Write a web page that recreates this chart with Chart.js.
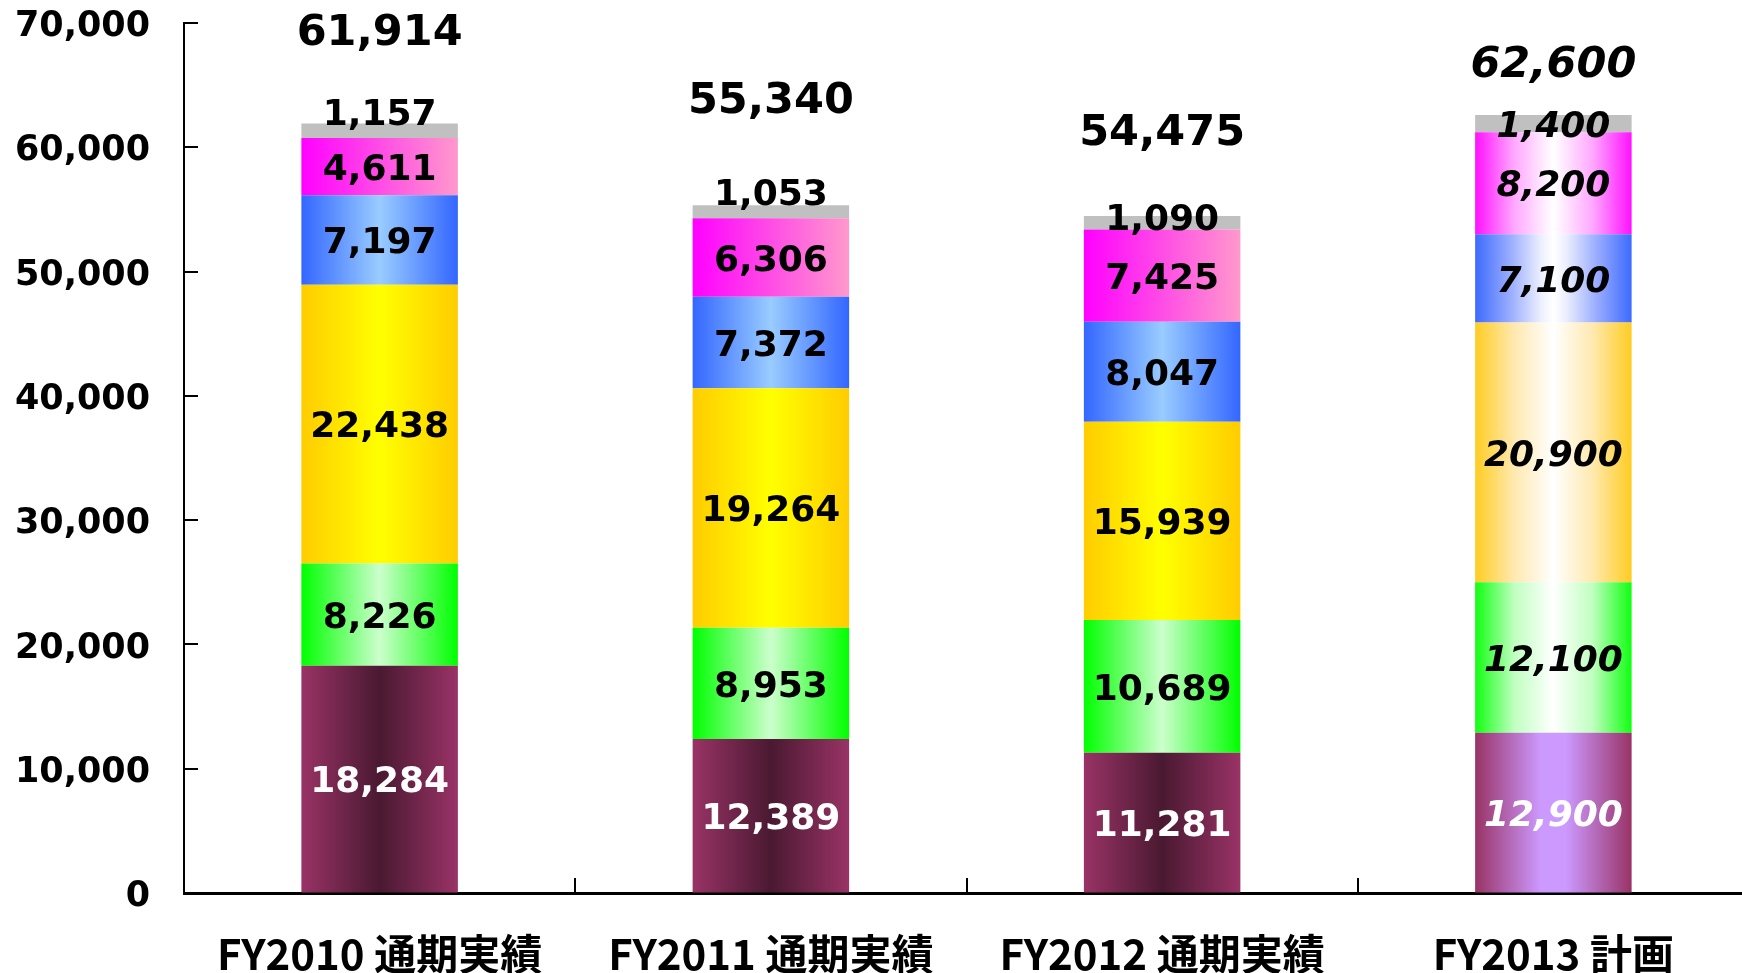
<!DOCTYPE html>
<html>
<head>
<meta charset="utf-8">
<script src="https://cdn.jsdelivr.net/npm/chart.js@4"></script>
<style>
  html, body { margin: 0; padding: 0; background: #fff; overflow: hidden; }
  #wrap { width: 1749px; height: 973px; }
</style>
</head>
<body>
<div id="wrap"><canvas id="myChart"></canvas></div>
<script>
const categories = ['FY2010 通期実績', 'FY2011 通期実績', 'FY2012 通期実績', 'FY2013 計画']

// stacked segments, bottom to top
const maroonVals = [18284, 12389, 11281, 12900]
const greenVals = [8226, 8953, 10689, 12100]
const yellowVals = [22438, 19264, 15939, 20900]
const blueVals = [7197, 7372, 8047, 7100]
const pinkVals = [4611, 6306, 7425, 8200]
const greyVals = [1157, 1053, 1090, 1400]
const totals = [61914, 55340, 54475, 62600]

const PLAN = 3
const BAR_PCT = 0.4
const NUM_FONT = "'DejaVu Sans', sans-serif"

// gradient stops: [actual years, plan year]
const styles = [
    { solid: '#993366', text: '#fff',
      act: [[0, '#993366'], [0.5, '#4a1931'], [1, '#993366']],
      plan: [[0, '#993366'], [0.42, '#cc99ff'], [0.58, '#cc99ff'], [1, '#993366']] },
    { solid: '#00ff00', text: '#000',
      act: [[0, '#00ff00'], [0.5, '#ccffcc'], [1, '#00ff00']],
      plan: [[0, '#11ff11'], [0.25, '#c0ffc0'], [0.5, '#ffffff'], [0.75, '#c0ffc0'], [1, '#11ff11']] },
    { solid: '#ffcc00', text: '#000',
      act: [[0, '#ffcc00'], [0.5, '#ffff00'], [1, '#ffcc00']],
      plan: [[0, '#ffcc22'], [0.25, '#ffe9b0'], [0.5, '#ffffff'], [0.75, '#ffe9b0'], [1, '#ffcc22']] },
    { solid: '#3366ff', text: '#000',
      act: [[0, '#3366ff'], [0.5, '#99ccff'], [1, '#3366ff']],
      plan: [[0, '#3d6bff'], [0.22, '#98abff'], [0.42, '#eceffe'], [0.5, '#ffffff'], [0.58, '#eceffe'], [0.78, '#98abff'], [1, '#3d6bff']] },
    { solid: '#ff00ff', text: '#000',
      act: [[0, '#ff00ff'], [1, '#ff99cc']],
      plan: [[0, '#ff11ff'], [0.25, '#ffa8ff'], [0.45, '#fff0ff'], [0.5, '#ffffff'], [0.55, '#fff0ff'], [0.75, '#ffa8ff'], [1, '#ff11ff']] },
    { solid: '#c0c0c0', text: '#000',
      act: [[0, '#c0c0c0'], [1, '#c0c0c0']],
      plan: [[0, '#c0c0c0'], [1, '#c0c0c0']] }
]

const greyShift = [-19, -20, -6, 0]     // px, grey labels sit a bit above their segment
const totalLift = [94, 108, 87, 54]     // px above the bar top

const fmt = v => v.toLocaleString('en-US')

const barGradient = (c, st) => {
    const chart = c.chart
    const xs = chart.scales.x
    if (c.type !== 'data' || !xs || !xs.width) return st.solid
    const stops = c.dataIndex === PLAN ? st.plan : st.act
    const cx = xs.getPixelForValue(c.dataIndex)
    const half = xs.width / categories.length * BAR_PCT / 2
    const g = chart.ctx.createLinearGradient(cx - half, 0, cx + half, 0)
    stops.forEach(s => g.addColorStop(s[0], s[1]))
    return g
}

const series = [maroonVals, greenVals, yellowVals, blueVals, pinkVals, greyVals]
const datasets = series.map((vals, i) => ({
    data: vals,
    backgroundColor: c => barGradient(c, styles[i]),
    borderWidth: 0,
    barPercentage: BAR_PCT,
    categoryPercentage: 1.0
}))

const numText = (ctx, text, x, y, size, italic, color) => {
    ctx.font = (italic ? 'italic ' : '') + 'bold ' + size + 'px ' + NUM_FONT
    ctx.fillStyle = color
    ctx.textAlign = 'center'
    ctx.textBaseline = 'alphabetic'
    ctx.fillText(text, x, y + size * 0.365)
}

const labelPlugin = {
    id: 'segLabels',
    afterDatasetsDraw(chart) {
        const ctx = chart.ctx
        ctx.save()
        chart.data.datasets.forEach((ds, i) => {
            const meta = chart.getDatasetMeta(i)
            meta.data.forEach((bar, j) => {
                let y = (bar.y + bar.base) / 2
                if (i === series.length - 1) y += greyShift[j]
                numText(ctx, fmt(ds.data[j]), bar.x, y, 36, j === PLAN, styles[i].text)
            })
        })
        const topBars = chart.getDatasetMeta(series.length - 1).data
        totals.forEach((t, j) => {
            numText(ctx, fmt(t), topBars[j].x, topBars[j].y - totalLift[j], 43, j === PLAN, '#000')
        })
        ctx.restore()
    }
}

// tick marks pointing into the plot
const innerTicks = {
    id: 'innerTicks',
    afterDraw(chart) {
        const ctx = chart.ctx
        const xs = chart.scales.x
        const ys = chart.scales.y
        ctx.save()
        ctx.strokeStyle = '#000'
        ctx.lineWidth = 2
        ctx.beginPath()
        ys.ticks.forEach((t, k) => {
            if (t.value === 0) return
            const y = Math.round(ys.getPixelForTick(k))
            ctx.moveTo(xs.left, y)
            ctx.lineTo(xs.left + 14, y)
        })
        const step = xs.width / categories.length
        for (let k = 1; k <= categories.length; k++) {
            const x = Math.round(xs.left + k * step)
            ctx.moveTo(x, ys.bottom)
            ctx.lineTo(x, ys.bottom - 15)
        }
        ctx.stroke()
        ctx.restore()
    }
}

const ctx = document.getElementById('myChart')

new Chart(ctx, {
    type: 'bar',
    data: { labels: categories, datasets: datasets },
    plugins: [labelPlugin, innerTicks],
    options: {
        responsive: true,
        maintainAspectRatio: false,
        animation: false,
        layout: { padding: { top: 23, left: 0, right: 0, bottom: 0 } },
        plugins: {
            legend: { display: false },
            tooltip: { enabled: false }
        },
        scales: {
            x: {
                stacked: true,
                grid: { display: true, drawOnChartArea: false, drawTicks: false },
                border: { display: true, color: '#000', width: 3 },
                ticks: {
                    color: '#000',
                    padding: 36,
                    maxRotation: 0,
                    autoSkip: false,
                    font: { family: "'Noto Sans CJK JP', sans-serif", weight: 'bold', size: 42 }
                },
                afterFit: scale => {
                    scale.height = 80
                    scale.paddingLeft = 0
                    scale.paddingRight = 0
                }
            },
            y: {
                stacked: true,
                min: 0,
                max: 70000,
                grid: { display: true, drawOnChartArea: false, drawTicks: false },
                border: { display: true, color: '#000', width: 2 },
                ticks: {
                    stepSize: 10000,
                    color: '#000',
                    padding: 34,
                    labelOffset: 4,
                    callback: v => fmt(v),
                    font: { family: NUM_FONT, weight: 'bold', size: 35 }
                },
                afterFit: scale => {
                    scale.width = 184
                    scale.paddingTop = 0
                    scale.paddingBottom = 0
                }
            }
        }
    }
})
</script>
</body>
</html>
